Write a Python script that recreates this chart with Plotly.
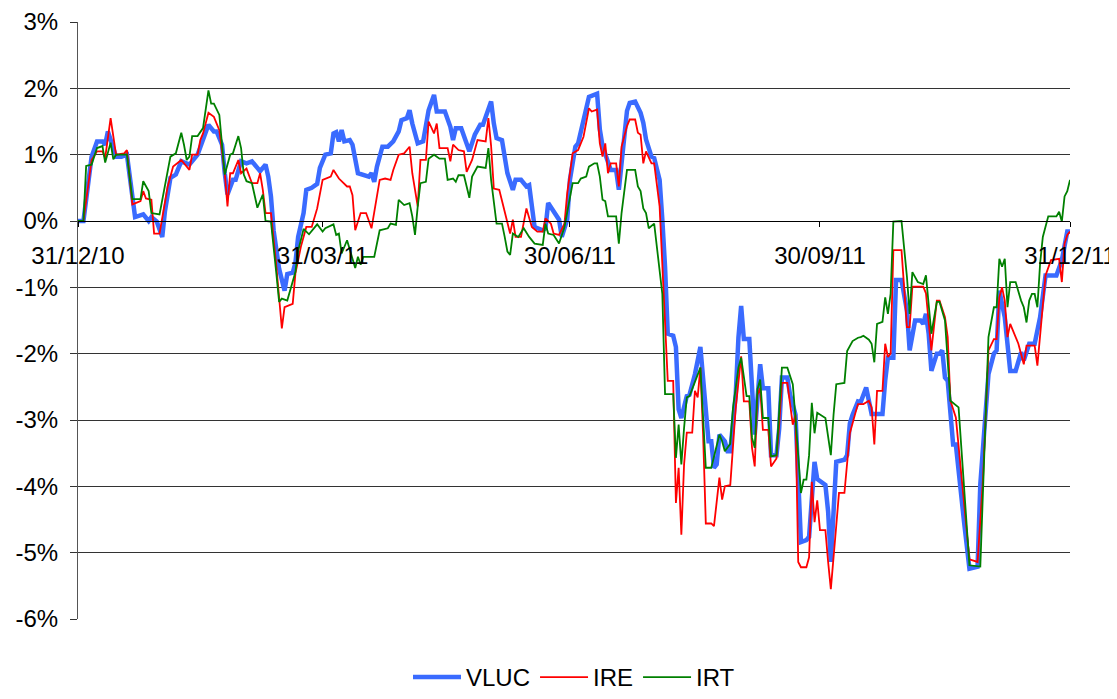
import pandas as pd
import plotly.graph_objects as go

# (day offset from 31/12/2010, % value)
vluc = [(0,0.0),(2,0.0),(5,0.97),(7,1.2),(9,1.2),(10,1.15),(11,1.35),(14,0.97),(16,0.97),(18,1.0),(21,0.06),(24,0.1),(26,0.0),(27,0.06),(29,-0.01),(31,-0.24),(32,0.15),(34,0.65),(36,0.7),(38,0.9),(41,0.85),(44,1.0),(48,1.45),(50,1.35),(51,1.35),(53,1.15),(54,0.72),(55,0.4),(57,0.62),(58,0.62),(60,0.9),(62,0.87),(64,0.9),(67,0.75),(69,0.85),(70,0.67),(71,0.37),(72,-0.15),(74,-0.72),(76,-1.05),(77,-0.8),(79,-0.78),(80,-0.63),(81,-0.24),(83,0.12),(84,0.47),(86,0.5),(88,0.56),(89,0.8),(91,1.0),(93,1.02),(94,1.32),(95,1.34),(96,1.2),(97,1.37),(98,1.2),(100,1.22),(101,1.15),(103,0.72),(105,0.7),(107,0.67),(108,0.72),(109,0.59),(110,0.82),(112,1.12),(114,1.12),(116,1.2),(118,1.35),(119,1.52),(121,1.55),(122,1.67),(123,1.47),(125,1.17),(127,1.2),(129,1.67),(131,1.9),(132,1.65),(135,1.65),(137,1.42),(138,1.22),(139,1.4),(141,1.4),(142,1.28),(144,1.05),(146,1.3),(148,1.45),(149,1.45),(150,1.57),(152,1.8),(153,1.47),(154,1.25),(156,1.22),(158,0.72),(160,0.47),(161,0.62),(163,0.62),(165,0.52),(166,0.54),(168,-0.09),(171,-0.14),(172,-0.11),(173,0.27),(176,0.07),(177,0.02),(178,-0.24),(180,0.02),(181,0.62),(183,1.12),(184,1.17),(186,1.52),(187,1.67),(188,1.87),(191,1.92),(192,1.38),(193,1.13),(196,0.77),(198,0.77),(199,0.47),(200,0.87),(202,1.66),(203,1.78),(205,1.8),(207,1.63),(208,1.48),(209,1.23),(211,0.97),(212,0.95),(214,0.62),(215,0.02),(216,-0.69),(217,-1.7),(219,-1.73),(220,-1.9),(221,-2.84),(222,-2.97),(224,-2.64),(225,-2.62),(227,-2.31),(229,-1.9),(230,-2.4),(232,-3.32),(233,-3.32),(234,-3.72),(235,-3.67),(236,-3.22),(238,-3.32),(239,-3.47),(240,-3.47),(242,-2.62),(243,-1.76),(244,-1.28),(245,-1.78),(247,-1.78),(249,-3.22),(250,-2.7),(251,-2.16),(252,-2.52),(254,-2.52),(255,-3.53),(257,-3.53),(258,-3.13),(259,-2.36),(261,-2.36),(262,-2.62),(264,-2.92),(265,-3.93),(266,-4.84),(268,-4.81),(269,-4.76),(271,-3.63),(272,-3.89),(275,-3.98),(276,-4.38),(277,-5.14),(278,-4.43),(279,-3.63),(282,-3.6),(283,-3.53),(284,-3.05),(285,-2.92),(287,-2.72),(288,-2.73),(290,-2.51),(292,-2.91),(293,-2.91),(296,-2.91),(297,-2.41),(298,-2.06),(300,-2.06),(301,-0.89),(303,-0.89),(305,-1.35),(306,-1.95),(308,-1.5),(310,-1.5),(311,-1.55),(312,-1.4),(313,-1.7),(314,-2.26),(316,-2.0),(317,-2.0),(318,-1.95),(319,-2.36),(320,-2.41),(322,-3.37),(323,-3.37),(326,-4.53),(328,-5.24),(331,-5.21),(332,-3.97),(335,-2.31),(337,-2.0),(338,-1.95),(339,-1.05),(341,-1.45),(342,-1.9),(343,-2.26),(345,-2.26),(347,-1.98),(348,-2.1),(350,-1.85),(352,-1.85),(354,-1.45),(356,-0.82),(360,-0.82),(362,-0.59),(364,-0.16),(365,-0.16)]

ire = [(0,0.0),(2,0.0),(5,0.92),(7,1.05),(9,1.05),(10,0.95),(12,1.55),(14,1.0),(17,1.02),(18,1.07),(20,0.25),(23,0.3),(24,0.45),(25,0.34),(27,0.32),(28,-0.19),(30,-0.19),(33,0.52),(35,0.82),(38,0.92),(41,0.77),(42,1.0),(44,1.0),(45,1.22),(46,1.32),(48,1.63),(50,1.57),(52,1.37),(54,0.72),(55,0.22),(56,0.72),(57,0.72),(59,0.92),(60,0.72),(62,0.79),(64,0.57),(66,0.57),(67,0.72),(68,0.47),(69,0.12),(71,0.12),(73,-0.69),(75,-1.62),(76,-1.3),(79,-1.25),(80,-0.79),(82,-0.39),(84,-0.09),(86,-0.09),(88,0.19),(90,0.62),(93,0.67),(94,0.77),(96,0.64),(99,0.52),(100,0.52),(101,0.39),(102,-0.14),(104,0.12),(106,0.12),(108,-0.11),(109,0.12),(111,0.62),(113,0.64),(115,0.62),(116,0.77),(118,1.0),(120,1.02),(122,1.12),(123,0.72),(125,0.22),(126,0.92),(128,0.92),(129,1.5),(131,1.32),(132,1.47),(133,1.1),(136,1.1),(137,0.9),(138,1.15),(140,1.07),(142,1.05),(143,0.74),(145,0.92),(147,1.22),(150,1.2),(151,1.55),(152,1.13),(153,0.49),(155,0.47),(157,0.12),(159,-0.19),(160,0.02),(161,-0.24),(163,-0.24),(165,0.19),(167,-0.09),(169,-0.16),(171,-0.16),(172,0.04),(174,-0.04),(175,-0.19),(177,-0.21),(179,-0.04),(180,0.42),(182,1.02),(184,1.07),(186,1.27),(188,1.7),(189,1.65),(191,1.68),(192,1.17),(193,0.97),(194,1.17),(195,0.72),(196,0.87),(198,0.87),(199,0.52),(200,1.12),(202,1.43),(203,1.53),(205,1.53),(206,1.33),(207,1.3),(208,0.87),(209,1.05),(211,0.87),(212,0.87),(214,0.22),(216,-1.5),(217,-2.41),(219,-2.41),(220,-4.25),(221,-3.72),(222,-4.73),(223,-3.67),(224,-3.19),(226,-3.19),(227,-2.56),(228,-2.66),(229,-2.21),(230,-3.22),(231,-4.56),(233,-4.56),(234,-4.6),(236,-3.87),(237,-4.2),(238,-4.0),(240,-3.98),(242,-2.82),(244,-2.04),(245,-2.72),(247,-2.72),(248,-3.42),(249,-3.7),(250,-2.62),(251,-2.52),(252,-3.15),(254,-3.15),(255,-3.7),(257,-3.58),(258,-3.07),(259,-2.44),(261,-2.44),(263,-3.07),(264,-2.92),(265,-5.14),(266,-5.22),(268,-5.22),(269,-5.07),(270,-3.93),(271,-4.54),(272,-4.21),(273,-4.66),(275,-4.66),(276,-5.14),(277,-5.55),(279,-4.59),(280,-4.1),(282,-4.1),(283,-3.58),(284,-3.2),(286,-2.9),(287,-2.76),(289,-2.76),(291,-2.71),(292,-2.81),(293,-3.37),(294,-2.56),(296,-2.56),(297,-1.85),(298,-2.05),(299,-2.0),(300,-0.44),(303,-0.44),(305,-1.6),(306,-1.6),(307,-0.99),(311,-0.99),(312,-1.09),(314,-1.95),(315,-1.55),(316,-1.2),(317,-1.2),(319,-1.45),(320,-1.75),(321,-2.71),(323,-2.96),(325,-3.82),(328,-5.1),(331,-5.14),(333,-3.88),(335,-1.95),(337,-1.78),(338,-1.78),(339,-1.15),(340,-1.0),(341,-1.2),(342,-1.75),(343,-1.55),(346,-1.85),(348,-2.16),(349,-1.88),(352,-1.88),(353,-2.18),(355,-1.35),(356,-0.82),(358,-0.59),(361,-0.57),(362,-0.92),(363,-0.34),(364,-0.21),(365,-0.16)]

irt = [(0,0.0),(2,0.0),(3,0.83),(5,0.85),(7,1.1),(9,1.13),(10,0.88),(12,1.18),(13,0.93),(14,1.0),(18,1.0),(20,0.33),(23,0.33),(24,0.6),(26,0.45),(27,0.12),(30,0.1),(34,0.97),(36,1.02),(38,1.33),(39,1.15),(40,0.92),(41,0.97),(42,1.28),(44,1.28),(46,1.4),(48,1.97),(49,1.77),(50,1.77),(52,1.6),(54,0.7),(56,1.0),(57,1.02),(59,1.28),(60,1.1),(61,0.7),(62,0.6),(64,0.57),(66,0.2),(68,0.4),(69,0.0),(71,-0.01),(73,-0.8),(74,-1.22),(75,-1.17),(77,-1.2),(80,-0.77),(81,-0.45),(83,-0.12),(85,-0.2),(88,-0.05),(90,-0.16),(91,-0.11),(94,-0.05),(95,-0.21),(96,-0.19),(97,-0.49),(99,-0.29),(102,-0.71),(103,-0.54),(104,-0.66),(105,-0.54),(109,-0.54),(111,-0.14),(114,-0.11),(115,-0.04),(117,-0.06),(118,0.32),(120,0.24),(122,0.27),(123,0.07),(124,-0.21),(125,0.22),(126,0.57),(128,0.59),(129,0.94),(131,1.0),(133,0.94),(135,0.94),(136,0.62),(138,0.64),(139,0.59),(140,0.69),(142,0.69),(144,0.35),(145,0.67),(147,0.82),(150,0.8),(151,1.1),(152,0.62),(154,-0.04),(156,-0.04),(157,-0.24),(158,-0.46),(159,-0.51),(160,-0.19),(162,-0.24),(164,-0.11),(166,-0.24),(168,-0.34),(171,-0.36),(172,-0.04),(173,-0.19),(175,-0.21),(177,-0.34),(179,-0.09),(182,0.57),(184,0.57),(185,0.64),(187,0.67),(188,0.82),(190,0.87),(191,0.87),(192,0.67),(193,0.32),(194,0.3),(195,0.07),(198,0.07),(199,-0.34),(200,0.12),(202,0.77),(205,0.77),(206,0.52),(207,0.45),(208,0.19),(209,0.12),(210,-0.11),(212,-0.04),(215,-1.1),(216,-2.61),(219,-2.61),(220,-3.57),(221,-3.07),(222,-3.67),(223,-3.12),(224,-2.66),(225,-2.64),(227,-2.41),(229,-2.21),(231,-3.72),(233,-3.72),(236,-3.22),(237,-3.32),(238,-3.47),(240,-3.36),(241,-2.82),(243,-2.21),(244,-2.06),(246,-2.64),(247,-2.64),(248,-3.27),(249,-3.42),(250,-2.54),(251,-2.39),(252,-2.97),(254,-2.97),(255,-3.55),(257,-3.53),(258,-2.92),(259,-2.21),(261,-2.21),(263,-2.46),(264,-2.97),(265,-3.53),(266,-4.1),(267,-3.9),(268,-3.9),(269,-3.53),(270,-2.74),(271,-3.2),(272,-2.89),(275,-2.97),(277,-3.53),(278,-2.92),(279,-2.46),(282,-2.44),(283,-1.96),(285,-1.81),(287,-1.76),(288,-1.75),(289,-1.73),(291,-1.79),(292,-1.85),(293,-2.13),(294,-1.55),(296,-1.52),(297,-1.15),(298,-1.4),(299,-1.1),(300,-0.01),(303,0.0),(305,-0.84),(306,-1.4),(307,-0.77),(309,-0.92),(311,-0.95),(312,-0.82),(314,-1.7),(316,-1.22),(317,-1.22),(319,-1.5),(320,-2.11),(321,-2.71),(324,-2.81),(326,-3.97),(328,-5.19),(332,-5.21),(333,-3.97),(335,-1.75),(337,-1.3),(338,-1.3),(339,-0.57),(340,-0.69),(341,-0.57),(342,-1.3),(343,-0.92),(345,-0.92),(347,-1.2),(348,-1.3),(349,-1.53),(350,-1.2),(351,-1.1),(352,-1.1),(353,-1.3),(354,-0.64),(355,-0.24),(357,0.07),(360,0.07),(361,0.14),(362,-0.01),(363,0.37),(364,0.45),(365,0.62)]

start_date = "2010-12-31"
tick_dates = ["2010-12-31", "2011-03-31", "2011-06-30", "2011-09-30", "2011-12-31"]
tick_labels = ["31/12/10", "31/03/11", "30/06/11", "30/09/11", "31/12/11"]
y_ticks = [-6, -5, -4, -3, -2, -1, 0, 1, 2, 3]
y_labels = ["-6%", "-5%", "-4%", "-3%", "-2%", "-1%", "0%", "1%", "2%", "3%"]

base = pd.Timestamp(start_date)


def xy(series):
    days = [d for d, _ in series]
    vals = [v for _, v in series]
    return base + pd.to_timedelta(days, unit="D"), vals


fig = go.Figure()
for name, series, color, width in [
    ("VLUC", vluc, "#3A6BFF", 4.5),
    ("IRE", ire, "#FF0000", 1.8),
    ("IRT", irt, "#008000", 1.8),
]:
    x, y = xy(series)
    fig.add_trace(go.Scatter(x=x, y=y, mode="lines", name=name,
                             line=dict(color=color, width=width)))

font = dict(family="Liberation Sans, Arial, sans-serif", size=24, color="black")

fig.update_layout(
    width=1109, height=691,
    margin=dict(l=70, r=47, t=14, b=80, autoexpand=False),
    paper_bgcolor="white", plot_bgcolor="white",
    font=font,
    showlegend=True,
    legend=dict(orientation="h", x=0.5, xanchor="center", y=-0.098, yanchor="middle",
                font=font, itemwidth=48, tracegroupgap=0),
    xaxis=dict(
        type="date",
        range=[tick_dates[0], tick_dates[-1]],
        anchor="free", position=2/3,
        automargin=False,
        showgrid=False, zeroline=False,
        showline=True, linecolor="black", linewidth=1,
        tickmode="array", tickvals=tick_dates, ticktext=tick_labels,
        ticks="outside", ticklen=5, tickcolor="black",
        ticklabelstandoff=8,
        tickfont=font,
    ),
    yaxis=dict(
        range=[-6, 3],
        automargin=False,
        tickmode="array", tickvals=y_ticks, ticktext=y_labels,
        showgrid=True, gridcolor="#333333", gridwidth=1,
        zeroline=False,
        showline=True, linecolor="#555555", linewidth=1,
        ticks="outside", ticklen=7, tickcolor="#333333",
        ticklabelstandoff=7,
        tickfont=font,
    ),
)

fig.write_html("out.html")
